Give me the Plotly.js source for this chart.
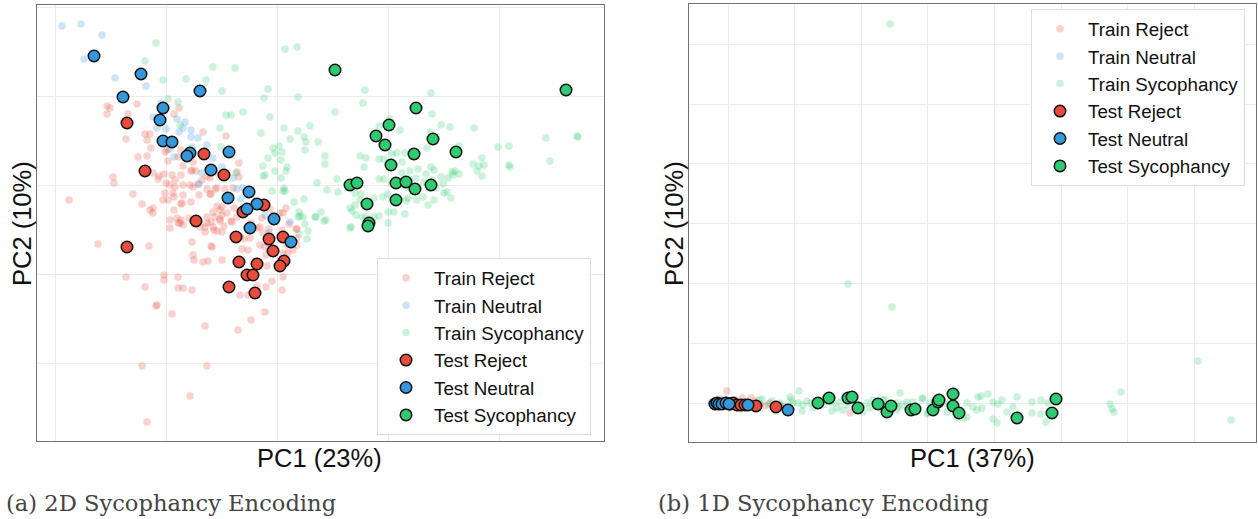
<!DOCTYPE html>
<html>
<head>
<meta charset="utf-8">
<script src="https://cdn.plot.ly/plotly-3.0.1.min.js"></script>
<style>
  html, body { margin: 0; padding: 0; background: #ffffff; }
  #chart { width: 1258px; height: 519px; }
</style>
</head>
<body>
<div id="chart"></div>
<script>
// ---------------- DATA (PCA scores) ----------------
// Panel (a): 2D Sycophancy Encoding  [PC1, PC2]
const aTrainReject = [
  [-17.0,16.8],[-16.7,16.6],[-17.0,16.0],[-14.9,16.0],[-14.0,17.0],[-9.8,16.6],[-10.3,16.0],
  [-15.1,13.5],[-13.2,14.0],[-12.7,14.0],[-13.0,13.4],[-11.0,12.4],[-9.6,12.4],[-7.4,14.2],
  [-5.1,13.8],[-3.8,11.1],[-4.0,10.2],[-13.9,11.7],[-13.0,11.8],[-12.6,12.6],[-10.9,11.3],
  [-9.4,10.8],[-9.6,9.9],[-8.6,10.3],[-8.1,10.3],[-11.8,9.8],[-11.3,10.0],[-10.5,9.9],
  [-10.2,9.4],[-11.1,9.1],[-10.7,8.9],[-10.2,8.7],[-11.9,9.5],[-16.4,9.7],[-16.3,9.1],
  [-14.4,8.0],[-13.5,7.0],[-20.8,7.4],[-12.4,6.6],[-12.4,6.1],[-11.2,8.1],[-10.9,7.4],
  [-10.3,7.7],[-9.4,7.9],[-9.6,7.0],[-8.6,7.2],[-7.8,7.9],[-6.6,8.0],[-7.0,8.5],[-6.2,8.5],
  [-5.2,8.5],[-7.9,9.0],[-8.7,8.9],[-9.4,8.9],[-7.5,9.4],[-6.7,9.6],[-5.8,10.0],[-6.0,6.8],
  [-5.5,6.7],[-4.3,6.6],[-5.5,5.9],[-6.2,5.7],[-7.0,5.7],[-8.8,5.6],[-10.0,5.6],[-10.3,6.4],
  [-9.6,5.4],[-10.7,5.4],[-4.4,8.6],[-0.7,6.5],[-0.4,5.9],[0.3,6.1],[0.9,6.6],[-1.5,5.6],
  [-2.6,5.1],[-4.6,5.3],[-5.7,5.3],[-5.3,4.8],[-6.4,4.7],[-7.2,4.7],[-6.6,5.2],[-1.7,4.7],
  [-0.8,4.5],[2.0,4.5],[1.2,5.0],[-11.2,12.2],[-9.9,11.7],[-8.4,11.2],[-8.5,10.4],[-12.4,10.1],
  [-7.0,9.8],[-8.4,8.7],[-10.4,8.1],[-6.7,8.0],[-6.0,8.6],[-12.7,6.4],[-11.4,7.4],[-9.5,7.1],
  [-9.7,5.1],[-9.4,4.9],[-7.0,5.1],[-6.0,4.3],[-7.2,4.2],[-5.5,4.2],[-5.7,5.5],[-4.5,5.2],
  [-5.7,6.4],[-6.4,6.2],[-5.0,6.1],[-4.0,5.7],[-3.7,3.7],[-3.3,3.5],[-2.7,3.6],[-1.7,2.9],
  [-1.2,2.7],[-2.0,4.6],[-1.4,4.1],[0.5,4.4],[0.6,6.1],[1.9,4.5],[2.0,3.6],[1.0,2.9],
  [1.6,2.4],[0.6,2.1],[-1.1,1.9],[-2.9,2.4],[-3.5,2.5],[-5.5,1.4],[-6.5,2.7],[-7.4,1.2],
  [-8.4,1.9],[-8.5,3.2],[-8.3,1.4],[-11.3,-0.1],[-11.3,-0.6],[-9.9,-0.3],[-9.9,-1.4],
  [-9.4,-1.4],[-8.5,-1.6],[-3.7,-2.1],[-1.1,-1.3],[0.5,-1.6],[0.6,-0.3],[-12.0,-3.1],
  [-17.9,3.0],[-12.8,2.8],[-15.1,-0.3],[-13.2,-1.3],[-12.1,-3.2],[-10.5,-4.0],[-6.9,1.3],
  [-6.6,2.8],[-7.2,-5.2],[-3.9,-5.6],[-2.9,-2.1],[-2.0,-1.2],[-1.2,-3.8],[-2.6,-4.6],
  [-0.5,-0.7],[-1.0,0.8],[2.0,2.9],[1.1,2.1],[-0.9,3.1],[-6.3,4.4],[-10.7,4.6],[-9.9,5.1],
  [-7.7,4.7],[-13.5,-9.2],[-7.0,-9.2],[-8.7,-12.2],[-13.0,-14.8],[-3.8,9.7]
];
const aTrainNeutral = [
  [-21.5,24.8],[-19.6,25.0],[-17.5,23.9],[-19.3,21.5],[-16.2,19.6],[-13.1,18.8],[-11.6,17.1],
  [-12.4,15.7],[-12.0,14.6],[-11.1,14.5],[-10.0,15.5],[-9.8,14.2],[-9.4,14.6],[-8.6,14.4],
  [-8.6,13.7],[-7.9,13.6],[-7.0,12.9],[-10.7,12.5],[-10.3,11.7],[-6.4,11.6],[-5.5,10.7],
  [-7.5,10.1],[-7.8,9.0],[-4.0,8.5],[-3.4,8.6],[-3.6,7.5],[1.3,5.2],[-8.5,12.7],[-0.8,4.1],
  [-9.2,15.2],[-4.4,9.6],[-1.2,5.9]
];
const aTrainSyco = [
  [-12.1,23.1],[0.8,22.5],[2.0,22.7],[-13.2,21.3],[-6.4,20.7],[-4.2,20.6],[-11.4,19.4],
  [-9.1,19.5],[-7.1,19.4],[-5.5,18.3],[-0.9,18.5],[-1.3,17.6],[2.1,17.7],[-10.9,17.5],
  [-9.9,17.2],[-5.1,15.9],[-4.6,15.9],[-3.4,16.2],[-0.7,15.7],[-5.7,14.6],[-1.6,14.1],
  [0.7,14.6],[3.3,14.8],[2.1,14.3],[2.7,13.7],[1.3,13.5],[4.1,13.2],[2.9,13.2],[0.2,12.8],
  [0.5,12.2],[-0.2,12.1],[-5.6,12.7],[2.8,12.4],[4.8,11.8],[-0.9,11.6],[0.4,11.4],[4.8,11.0],
  [-1.4,10.8],[1.0,10.7],[0.9,10.3],[-0.2,10.3],[-1.2,9.9],[4.0,9.1],[5.0,8.4],[0.7,8.6],
  [-0.5,8.3],[0.6,8.3],[2.7,7.5],[1.7,7.2],[3.9,5.7],[4.4,6.2],[4.9,5.4],[2.1,5.7],[2.2,6.2],
  [-9.7,14.9],[-4.1,10.1],[8.8,18.4],[8.6,17.1],[5.8,16.2],[6.0,9.5],[6.1,8.2],[3.1,4.3],
  [4.7,5.3],[3.0,3.5],[2.2,4.0],[7.4,4.7],[2.8,5.0],[8.3,11.8],[8.9,11.6],[8.7,10.7],
  [10.2,14.8],[11.3,15.5],[12.3,14.4],[15.4,18.1],[15.5,16.0],[16.4,14.9],[17.3,14.7],
  [15.3,14.2],[15.0,12.6],[12.8,12.1],[11.5,12.0],[12.0,12.1],[10.2,11.5],[10.7,11.5],
  [12.5,11.2],[15.4,10.7],[15.7,10.4],[14.1,10.5],[12.5,10.1],[13.3,10.3],[14.9,10.0],
  [16.4,9.7],[17.1,9.6],[17.6,9.9],[18.2,12.8],[19.7,14.6],[19.6,11.0],[20.2,10.8],
  [20.7,10.9],[20.5,11.6],[20.0,10.3],[20.5,9.8],[17.8,10.3],[18.2,10.0],[17.5,10.2],
  [22.1,12.7],[23.2,12.8],[23.2,10.9],[23.3,10.7],[26.9,13.6],[27.3,11.3],[30.0,13.8],
  [30.1,13.7],[10.2,9.5],[10.7,9.5],[11.5,9.0],[12.9,8.7],[13.2,9.5],[13.9,9.6],[14.7,9.2],
  [15.5,9.4],[15.9,8.6],[16.6,9.0],[16.7,8.1],[17.0,8.2],[17.4,7.6],[15.7,7.4],[14.6,7.7],
  [14.0,7.4],[13.1,7.6],[12.9,7.3],[11.1,8.0],[10.6,7.7],[9.7,7.6],[8.4,8.0],[8.3,7.4],
  [7.8,8.1],[7.8,6.9],[7.3,6.6],[7.5,6.3],[7.9,5.9],[8.5,5.7],[8.9,5.7],[9.7,5.7],[10.2,5.8],
  [11.1,6.2],[11.7,6.2],[11.1,5.1],[12.8,6.0],[15.1,6.9],[7.3,4.6],[-0.4,12.6],[0.8,8.3],
  [2.6,5.7],[3.8,5.7],[2.3,5.8],[-1.4,9.8],[0.4,9.6]
];
const aTestReject = [
  [-15.0,15.1],[-13.2,10.3],[-7.3,12.0],[-5.3,9.9],[-1.3,6.9],[-3.4,6.2],[-8.1,5.3],
  [-4.1,3.7],[-0.8,3.5],[0.6,3.7],[-0.4,2.3],[-3.8,1.2],[-2.0,1.0],[0.7,1.3],[0.3,0.8],
  [-3.0,-0.1],[-2.4,-0.1],[-4.8,-1.3],[-2.2,-1.9],[-15.0,2.7]
];
const aTestNeutral = [
  [-18.3,21.8],[-13.6,20.0],[-7.7,18.3],[-15.4,17.7],[-11.4,16.6],[-11.7,15.4],[-11.4,13.3],
  [-10.5,13.2],[-8.7,12.1],[-9.0,11.8],[-4.8,12.2],[-6.6,10.4],[-2.8,8.2],[-4.9,7.6],
  [-2.0,7.0],[-3.0,6.5],[-0.3,5.5],[-2.7,4.6],[1.4,3.2]
];
const aTestSyco = [
  [5.8,20.4],[28.9,18.4],[13.9,16.6],[11.2,14.9],[9.9,13.8],[15.6,13.5],[10.8,12.9],
  [13.7,12.0],[17.9,12.2],[11.4,10.9],[7.3,8.9],[8.0,9.1],[11.9,9.1],[12.9,9.2],[15.4,8.9],
  [13.8,8.5],[9.0,7.0],[11.9,7.4],[9.2,5.1],[9.1,4.8]
];

// Panel (b): 1D Sycophancy Encoding  [PC1, PC2]
const bTrainReject = [
  [-0.1,1.2],[2.3,0.5],[1.4,0.5],[-0.8,0.4],[0.7,0.3],[3.2,-0.1],[3.7,-0.3],[12.2,-1.0],
  [-1.2,-0.4],[0.2,-0.5],[1.2,-0.6],[-1.6,0.1],[-0.4,0.2],[1.9,0.1],[2.7,0.2],[4.2,0.0],[5.2,-0.2]
];
const bTrainNeutral = [
  [-1.6,-0.1],[-1.4,0.2],[-1.0,-0.3],[-0.7,0.1],[-0.5,-0.2],[-0.3,0.3],[-0.1,-0.3],[0.3,0.1],
  [0.6,-0.2],[1.0,0.0],[-1.2,0.0],[1.6,-0.1]
];
const bTrainSyco = [
  [3.1,0.3],[4.0,-0.1],[4.4,0.2],[5.2,0.0],[5.7,-0.3],[6.3,0.3],[6.5,0.0],[7.1,1.2],[7.0,0.0],
  [7.5,-0.2],[7.9,0.2],[8.3,0.0],[8.5,-0.5],[9.7,-0.1],[10.5,0.0],[10.9,-0.5],[11.2,0.1],
  [11.5,-0.7],[11.9,-0.2],[12.7,0.1],[13.2,-0.2],[13.9,0.0],[14.2,-0.5],[14.5,0.3],[15.5,-0.3],
  [15.7,0.4],[4.7,-0.8],[7.4,-0.8],[10.4,-0.8],[13.5,-0.9],[17.2,1.0],[17.0,-0.4],[18.5,0.1],
  [19.5,0.5],[19.9,-1.1],[23.5,-1.5],[23.9,0.0],[24.5,-0.4],[25.0,0.6],[15.5,0.3],[16.9,0.0],
  [17.5,-0.2],[17.9,0.1],[19.4,0.4],[20.2,0.0],[20.0,-1.0],[21.7,0.0],[21.9,-0.9],[23.9,-1.4],
  [24.9,-0.7],[25.4,-0.5],[25.3,0.7],[26.0,0.9],[26.5,0.1],[27.0,-0.1],[27.4,0.3],[26.5,-1.6],
  [26.9,-2.0],[27.9,-0.9],[28.5,-0.4],[28.9,0.6],[30.4,0.1],[30.4,-1.0],[31.3,0.3],[31.3,-1.1],
  [31.8,-1.9],[32.0,0.0],[22.9,-1.4],[16.9,-0.7],[18.5,-0.9],[39.3,1.1],[38.2,-0.1],[38.4,-0.6],
  [38.6,-0.9],[47.0,4.2],[50.3,-1.7],[16.2,37.9],[12.0,11.9],[16.4,9.6],[3.4,0.4],[6.2,0.6]
];
const bTestReject = [
  [0.2,-0.1],[0.5,0.0],[0.9,-0.2],[1.3,-0.2],[1.7,-0.2],[2.8,-0.3],[4.8,-0.4]
];
const bTestNeutral = [
  [-1.3,-0.1],[-1.1,0.0],[-0.9,-0.1],[-0.6,-0.1],[-0.2,0.0],[0.1,-0.1],[2.0,-0.2],[6.0,-0.7]
];
const bTestSyco = [
  [9.0,0.0],[10.1,0.5],[12.0,0.5],[12.4,0.6],[13.0,-0.5],[15.0,-0.1],[15.9,-0.9],[16.3,-0.3],
  [18.3,-0.7],[18.7,-0.6],[20.5,-0.7],[21.0,0.1],[21.1,0.3],[22.5,0.9],[22.5,-0.3],[23.1,-1.0],
  [28.9,-1.5],[32.4,-1.0],[32.8,0.4]
];

const seriesNames = ['Train Reject','Train Neutral','Train Sycophancy','Test Reject','Test Neutral','Test Sycophancy'];
const axisTitles = { a: ['PC1 (23%)','PC2 (10%)'], b: ['PC1 (37%)','PC2 (10%)'] };
const captions = ['(a) 2D Sycophancy Encoding', '(b) 1D Sycophancy Encoding'];

// ---------------- STYLE ----------------
const colors = ['#e74c3c', '#3498db', '#2ecc71'];
const SANS = '"Liberation Sans", Arial, Helvetica, sans-serif';

function makeTraces(sets, xa, ya, legendId) {
  return sets.map((pts, i) => {
    const isTest = i >= 3;
    const c = colors[i % 3];
    return {
      type: 'scatter', mode: 'markers',
      x: pts.map(p => p[0]), y: pts.map(p => p[1]),
      xaxis: xa, yaxis: ya, legend: legendId,
      name: seriesNames[i],
      hoverinfo: 'skip',
      marker: isTest
        ? { color: c, size: 11.5, opacity: 1, line: { color: '#111111', width: 1.5 } }
        : { color: c, size: 7.5, opacity: 0.25, line: { width: 0 } }
    };
  });
}

const traces = [].concat(
  makeTraces([aTrainReject, aTrainNeutral, aTrainSyco, aTestReject, aTestNeutral, aTestSyco], 'x', 'y', 'legend'),
  makeTraces([bTrainReject, bTrainNeutral, bTrainSyco, bTestReject, bTestNeutral, bTestSyco], 'x2', 'y2', 'legend2')
);

const W = 1258, H = 519;
const axBase = {
  showticklabels: false, ticks: '', zeroline: false,
  showgrid: true, gridcolor: '#ebebeb', gridwidth: 1,
  showline: true, mirror: true, linecolor: '#737373', linewidth: 1,
  tick0: 0, fixedrange: true
};
const legBase = {
  bgcolor: '#ffffff', bordercolor: '#dddddd', borderwidth: 1,
  font: { family: SANS, size: 18.8, color: '#111111' },
  itemwidth: 46, tracegroupgap: 0, xanchor: 'left', yanchor: 'top'
};

const layout = {
  width: W, height: H,
  margin: { l: 0, r: 0, t: 0, b: 0 },
  paper_bgcolor: '#ffffff', plot_bgcolor: '#ffffff',
  showlegend: true,
  xaxis:  Object.assign({}, axBase, { domain: [37/W, 604/W],  range: [-24.0, 32.7], dtick: 11.1, anchor: 'y' }),
  yaxis:  Object.assign({}, axBase, { domain: [78/H, 514/H],  range: [-16.7, 26.9], dtick: 8.9,  anchor: 'x' }),
  xaxis2: Object.assign({}, axBase, { domain: [689/W, 1256/W], range: [-3.9, 52.8], dtick: 6.66, anchor: 'y2' }),
  yaxis2: Object.assign({}, axBase, { domain: [77/H, 515/H],  range: [-3.9, 39.9], dtick: 5.98, anchor: 'x2' }),
  legend:  Object.assign({}, legBase, { x: 377/W, y: 1 - 258/H }),
  legend2: Object.assign({}, legBase, { x: 1031/W, y: 1 - 9/H }),
  annotations: [
    { text: axisTitles.a[0], xref: 'paper', yref: 'paper', x: 319/W, y: 1 - 458/H, showarrow: false,
      xanchor: 'center', yanchor: 'middle', font: { family: SANS, size: 25.5, color: '#111' } },
    { text: axisTitles.a[1], xref: 'paper', yref: 'paper', x: 22/W, y: 1 - 224/H, showarrow: false, textangle: -90,
      xanchor: 'center', yanchor: 'middle', font: { family: SANS, size: 25.5, color: '#111' } },
    { text: axisTitles.b[0], xref: 'paper', yref: 'paper', x: 972/W, y: 1 - 458/H, showarrow: false,
      xanchor: 'center', yanchor: 'middle', font: { family: SANS, size: 25.5, color: '#111' } },
    { text: axisTitles.b[1], xref: 'paper', yref: 'paper', x: 674/W, y: 1 - 224/H, showarrow: false, textangle: -90,
      xanchor: 'center', yanchor: 'middle', font: { family: SANS, size: 25.5, color: '#111' } },
    { text: captions[0], xref: 'paper', yref: 'paper', x: 4/W, y: 1 - 503/H, showarrow: false,
      xanchor: 'left', yanchor: 'middle', font: { family: '"DejaVu Serif", serif', size: 22.6, color: '#444444' } },
    { text: captions[1], xref: 'paper', yref: 'paper', x: 656/W, y: 1 - 503/H, showarrow: false,
      xanchor: 'left', yanchor: 'middle', font: { family: '"DejaVu Serif", serif', size: 22.6, color: '#444444' } }
  ]
};

Plotly.newPlot('chart', traces, layout, { staticPlot: true, displayModeBar: false });
</script>
</body>
</html>
